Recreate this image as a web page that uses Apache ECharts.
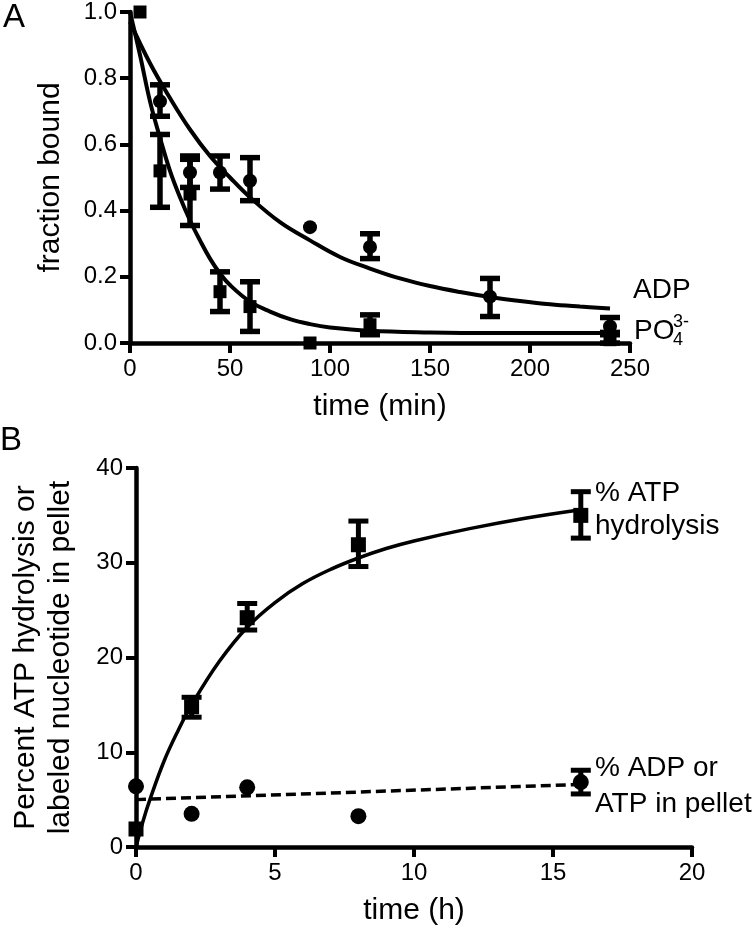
<!DOCTYPE html>
<html>
<head>
<meta charset="utf-8">
<script src="https://cdn.jsdelivr.net/npm/echarts@6/dist/echarts.min.js"></script>
<style>
html,body{margin:0;padding:0;background:#fff;}
#chart{width:756px;height:937px;}
</style>
</head>
<body>
<div id="chart"></div>
<script>
// ---------- Panel A data ----------
const aTimeCircle = [15, 30, 45, 60, 90, 120, 180, 240];
const aAdpMean    = [0.73, 0.515, 0.515, 0.49, 0.35, 0.29, 0.14, 0.05];
const aAdpLow     = [0.685, 0.47, 0.465, 0.43, null, 0.255, 0.08, 0.025];
const aAdpHigh    = [0.78, 0.565, 0.565, 0.56, null, 0.33, 0.195, 0.077];

const aTimeSquare = [5, 15, 30, 45, 60, 90, 120, 240];
const aPoMean     = [1.0, 0.52, 0.45, 0.155, 0.11, 0.0, 0.055, 0.01];
const aPoLow      = [null, 0.41, 0.355, 0.095, 0.035, null, 0.025, 0.0];
const aPoHigh     = [null, 0.63, 0.555, 0.215, 0.185, null, 0.085, 0.032];

const aAdpFitT = [0, 10, 20, 30, 40, 50, 60, 75, 90, 105, 120, 135, 150, 165, 180, 195, 210, 225, 240];
const aAdpFitY = [0.97, 0.845, 0.74, 0.645, 0.565, 0.50, 0.44, 0.365, 0.31, 0.26, 0.225, 0.195, 0.172, 0.154, 0.139, 0.127, 0.117, 0.11, 0.104];
const aPoFitT  = [0, 5, 10, 15, 20, 25, 30, 35, 40, 45, 50, 60, 70, 80, 90, 100, 120, 150, 180, 210, 240];
const aPoFitY  = [1.0, 0.87, 0.73, 0.62, 0.52, 0.44, 0.37, 0.31, 0.255, 0.21, 0.175, 0.125, 0.095, 0.072, 0.057, 0.047, 0.037, 0.032, 0.03, 0.03, 0.03];

const aXTicks = [0, 50, 100, 150, 200, 250];
const aYTicks = ['0.0', '0.2', '0.4', '0.6', '0.8', '1.0'];

// ---------- Panel B data ----------
const bTime        = [0, 2, 4, 8, 16];
const bAtpMean     = [1.9, 14.8, 24.2, 31.9, 35.0];
const bAtpLow      = [null, 13.7, 22.9, 29.6, 32.6];
const bAtpHigh     = [null, 15.8, 25.7, 34.4, 37.5];
const bPelletMean  = [6.4, 3.5, 6.3, 3.25, 6.85];
const bPelletLow   = [null, null, null, null, 5.6];
const bPelletHigh  = [null, null, null, null, 8.1];

const bAtpFitT = [0, 0.25, 0.5, 1, 1.5, 2, 3, 4, 5, 6, 7, 8, 9, 10, 12, 14, 16];
const bAtpFitY = [0, 2.7, 5.0, 9.0, 12.2, 15.0, 19.6, 23.2, 25.8, 27.8, 29.3, 30.5, 31.5, 32.3, 33.6, 34.7, 35.6];
const bPelletFitT = [0, 16];
const bPelletFitY = [5.0, 6.6];

const bXTicks = [0, 5, 10, 15, 20];
const bYTicks = [0, 10, 20, 30, 40];

// ---------- helpers ----------
const FONT = 'Liberation Sans, Arial, Helvetica, sans-serif';
const TICK_FS = 24;
const TITLE_FS = 30;
const NOTE_FS = 28;
const zip = (xs, ys) => xs.map((x, i) => [x, ys[i]]);
const errData = (xs, lo, hi) => xs.map((x, i) => [x, lo[i], hi[i]]).filter(d => d[1] !== null);

function errSeries(data, xi, capHalf, stemW, capW) {
  return {
    type: 'custom', xAxisIndex: xi, yAxisIndex: xi, data: data, z: 3,
    renderItem: function (params, api) {
      const x = api.value(0), lo = api.value(1), hi = api.value(2);
      const pHi = api.coord([x, hi]);
      const pLo = api.coord([x, lo]);
      const st = {stroke: '#000', lineWidth: stemW};
      const cs = {stroke: '#000', lineWidth: capW};
      return {
        type: 'group',
        children: [
          {type: 'line', shape: {x1: pHi[0], y1: pHi[1], x2: pLo[0], y2: pLo[1]}, style: st},
          {type: 'line', shape: {x1: pHi[0] - capHalf, y1: pHi[1], x2: pHi[0] + capHalf, y2: pHi[1]}, style: cs},
          {type: 'line', shape: {x1: pLo[0] - capHalf, y1: pLo[1], x2: pLo[0] + capHalf, y2: pLo[1]}, style: cs}
        ]
      };
    }
  };
}

function label(extra) {
  return Object.assign({color: '#000', fontSize: TICK_FS, fontFamily: FONT}, extra);
}

function axisCommon(extra) {
  return Object.assign({
    axisLine: {show: true, onZero: false, lineStyle: {color: '#000', width: 4.5}},
    axisTick: {show: true, inside: false, length: 10, lineStyle: {color: '#000', width: 4}},
    axisLabel: label({}),
    splitLine: {show: false},
    nameTextStyle: {color: '#000', fontSize: TITLE_FS, fontFamily: FONT}
  }, extra);
}

const chart = echarts.init(document.getElementById('chart'), null, {renderer: 'canvas'});

const option = {
  backgroundColor: '#fff',
  animation: false,
  grid: [
    {left: 130, top: 10, width: 500, height: 333},
    {left: 125, top: 468, width: 567, height: 379}
  ],
  xAxis: [
    axisCommon({gridIndex: 0, type: 'value', min: aXTicks[0], max: aXTicks[aXTicks.length - 1], interval: 50,
      name: 'time (min)', nameLocation: 'middle', nameGap: 49,
      axisLabel: label({margin: 14})}),
    axisCommon({gridIndex: 1, type: 'value', min: bXTicks[0], max: bXTicks[bXTicks.length - 1], interval: 5,
      name: 'time (h)', nameLocation: 'middle', nameGap: 49,
      axisLabel: label({margin: 14})})
  ],
  yAxis: [
    axisCommon({gridIndex: 0, type: 'value', min: 0, max: 1, interval: 0.2,
      name: 'fraction bound', nameLocation: 'middle', nameGap: 64,
      axisLabel: label({margin: 13, formatter: v => aYTicks[Math.round(v / 0.2)]})}),
    axisCommon({gridIndex: 1, type: 'value', min: bYTicks[0], max: bYTicks[bYTicks.length - 1], interval: 10,
      name: 'Percent ATP hydrolysis or\nlabeled nucleotide in pellet', nameLocation: 'middle', nameGap: 58,
      nameTextStyle: {color: '#000', fontSize: TITLE_FS, fontFamily: FONT, lineHeight: 35},
      axisLabel: label({margin: 13})})
  ],
  series: [
    // Panel A fitted curves
    {type: 'line', xAxisIndex: 0, yAxisIndex: 0, data: zip(aAdpFitT, aAdpFitY), smooth: 0.4,
      showSymbol: false, clip: false, lineStyle: {color: '#000', width: 4}, z: 2},
    {type: 'line', xAxisIndex: 0, yAxisIndex: 0, data: zip(aPoFitT, aPoFitY), smooth: 0.4,
      showSymbol: false, clip: false, lineStyle: {color: '#000', width: 4}, z: 2},
    // Panel A error bars
    errSeries(errData(aTimeCircle, aAdpLow, aAdpHigh), 0, 10, 5.5, 5.5),
    errSeries(errData(aTimeSquare, aPoLow, aPoHigh), 0, 10, 5.5, 5.5),
    // Panel A points
    {type: 'scatter', xAxisIndex: 0, yAxisIndex: 0, data: zip(aTimeCircle, aAdpMean), symbol: 'circle',
      symbolSize: 14, clip: false, itemStyle: {color: '#000', opacity: 1}, z: 4},
    {type: 'scatter', xAxisIndex: 0, yAxisIndex: 0, data: zip(aTimeSquare, aPoMean), symbol: 'rect',
      symbolSize: 13, clip: false, itemStyle: {color: '#000', opacity: 1}, z: 4},
    // Panel B fitted curves
    {type: 'line', xAxisIndex: 1, yAxisIndex: 1, data: zip(bAtpFitT, bAtpFitY), smooth: 0.4,
      showSymbol: false, clip: false, lineStyle: {color: '#000', width: 3.5}, z: 2},
    {type: 'line', xAxisIndex: 1, yAxisIndex: 1, data: zip(bPelletFitT, bPelletFitY),
      showSymbol: false, clip: false, lineStyle: {color: '#000', width: 3.5, type: [10, 5]}, z: 2},
    // Panel B error bars
    errSeries(errData(bTime, bAtpLow, bAtpHigh), 1, 10, 5, 5),
    errSeries(errData(bTime, bPelletLow, bPelletHigh), 1, 10, 5, 5),
    // Panel B points
    {type: 'scatter', xAxisIndex: 1, yAxisIndex: 1, data: zip(bTime, bAtpMean), symbol: 'rect',
      symbolSize: 15, clip: false, itemStyle: {color: '#000', opacity: 1}, z: 4},
    {type: 'scatter', xAxisIndex: 1, yAxisIndex: 1, data: zip(bTime, bPelletMean), symbol: 'circle',
      symbolSize: 16, clip: false, itemStyle: {color: '#000', opacity: 1}, z: 4}
  ],
  graphic: [
    {type: 'text', left: 3, top: 1, style: {text: 'A', fontSize: 33, fontFamily: FONT, fill: '#000'}},
    {type: 'text', left: 0, top: 424, style: {text: 'B', fontSize: 33, fontFamily: FONT, fill: '#000'}},
    {type: 'text', left: 633, top: 276, style: {text: 'ADP', fontSize: NOTE_FS, fontFamily: FONT, fill: '#000'}},
    {type: 'text', left: 634, top: 317, style: {text: 'PO', fontSize: NOTE_FS, fontFamily: FONT, fill: '#000'}},
    {type: 'text', left: 673, top: 313, style: {text: '3-', fontSize: 18, fontFamily: FONT, fill: '#000'}},
    {type: 'text', left: 673, top: 331, style: {text: '4', fontSize: 18, fontFamily: FONT, fill: '#000'}},
    {type: 'text', left: 595, top: 477, style: {text: '% ATP\nhydrolysis', fontSize: NOTE_FS, lineHeight: 33, fontFamily: FONT, fill: '#000'}},
    {type: 'text', left: 595, top: 750, style: {text: '% ADP or\nATP in pellet', fontSize: NOTE_FS, lineHeight: 36, fontFamily: FONT, fill: '#000'}}
  ]
};
chart.setOption(option);
</script>
</body>
</html>
